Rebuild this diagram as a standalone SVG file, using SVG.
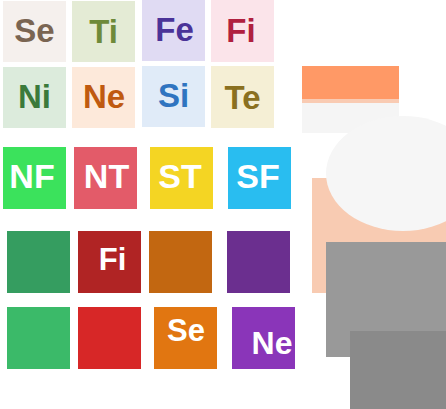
<svg xmlns="http://www.w3.org/2000/svg" width="446" height="409" viewBox="0 0 446 409">
<style>
text{font-family:"Liberation Sans",Arial,sans-serif;font-weight:bold;text-anchor:middle}
.s{font-size:33px}
.m{font-size:34px;fill:#fff}
.w{font-size:31px;fill:#fff}
</style>
<rect width="446" height="409" fill="#fff"/>
<g id="se1"><rect x="3" y="1" width="63" height="61" fill="#f5f0ed"/><text class="s" x="34.5" y="42" fill="#7a6552">Se</text></g>
<g id="ti1"><rect x="72" y="1" width="63" height="61" fill="#e4ebd5"/><text class="s" x="103.5" y="43" fill="#6e8a3a">Ti</text></g>
<g id="fe1"><rect x="142" y="0" width="63" height="61" fill="#e0dbf3"/><text class="s" x="174.5" y="41" fill="#4a3398">Fe</text></g>
<g id="fi1"><rect x="211" y="0" width="63" height="62" fill="#fbe4ea"/><text class="s" x="241" y="42" fill="#b0203f">Fi</text></g>
<g id="ni1"><rect x="3" y="67" width="63" height="61" fill="#dcebdc"/><text class="s" x="34.5" y="108" fill="#3b7a3b">Ni</text></g>
<g id="ne1"><rect x="72" y="67" width="63" height="61" fill="#fde9da"/><text class="s" x="104" y="108" fill="#c05a10">Ne</text></g>
<g id="si1"><rect x="142" y="66" width="63" height="61" fill="#e0ebf8"/><text class="s" x="173.5" y="107" fill="#2f74c0">Si</text></g>
<g id="te1"><rect x="211" y="66" width="63" height="62" fill="#f5efd5"/><text class="s" x="242.5" y="109" fill="#8a7020">Te</text></g>
<g id="nf"><rect x="3" y="147" width="63" height="62" fill="#3be25c"/><text class="m" x="32" y="188">NF</text></g>
<g id="nt"><rect x="74" y="147" width="63" height="62" fill="#e35b69"/><text class="m" x="106.5" y="188">NT</text></g>
<g id="st"><rect x="150" y="147" width="63" height="62" fill="#f4d523"/><text class="m" x="180" y="188">ST</text></g>
<g id="sf"><rect x="228" y="147" width="63" height="62" fill="#29bdf0"/><text class="m" x="258" y="188">SF</text></g>
<g id="g4"><rect x="7" y="231" width="63" height="62" fill="#359d60"/></g>
<g id="fi4"><rect x="78" y="231" width="63" height="62" fill="#b02424"/><text class="w" x="112.5" y="270">Fi</text></g>
<g id="o4"><rect x="149" y="231" width="63" height="62" fill="#c26711"/></g>
<g id="p4"><rect x="227" y="231" width="63" height="62" fill="#6b2f8f"/></g>
<g id="g5"><rect x="7" y="307" width="63" height="62" fill="#3bba69"/></g>
<g id="r5"><rect x="78" y="307" width="63" height="62" fill="#d72727"/></g>
<g id="se5"><rect x="154" y="307" width="63" height="62" fill="#e17611"/><text class="w" x="186" y="341">Se</text></g>
<g id="ne5"><rect x="232" y="307" width="63" height="62" fill="#8a35b9"/><text class="w" x="272" y="354" style="font-size:32px">Ne</text></g>
<g id="right">
<rect x="302" y="66" width="97" height="33" fill="#ff9966"/>
<rect x="302" y="99" width="97" height="4" fill="#f9cbb3"/>
<rect x="302" y="103" width="97" height="30" fill="#f5f5f5"/>
<rect x="312" y="178" width="134" height="115" fill="#f8cbb2"/>
<ellipse cx="403" cy="173.5" rx="77" ry="57.5" fill="#f6f6f6"/>
<rect x="326" y="242" width="120" height="115" fill="#999999"/>
<rect x="350" y="331" width="96" height="78" fill="#8a8a8a"/>
</g>
</svg>
